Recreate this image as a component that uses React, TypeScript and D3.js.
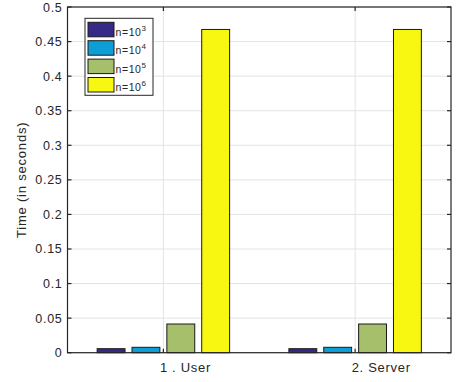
import React, { useRef, useEffect } from "react";
import * as d3 from "d3";

// data
const categories = ["1 . User", "2. Server"];
const seriesNames = ["3", "4", "5", "6"]; // exponents of n=10^k
const seriesColors = ["#352A87", "#0D9ED5", "#A5BF6A", "#F7F711"];
const userTimes = [0.0058, 0.0078, 0.0415, 0.4675];
const serverTimes = [0.0058, 0.0078, 0.0415, 0.4675];
const yTicks = [0, 0.05, 0.1, 0.15, 0.2, 0.25, 0.3, 0.35, 0.4, 0.45, 0.5];

const values = [userTimes, serverTimes];

const W = 456;
const H = 382;
const margin = { left: 67.5, right: 5, top: 7, bottom: 29.3 };
const font = "'Liberation Sans', Arial, sans-serif";

function BarChart() {
  const svgRef = useRef<SVGSVGElement>(null);

  useEffect(() => {
    const svg = d3.select(svgRef.current);
    svg.selectAll("*").remove();

    const x0 = margin.left;
    const x1 = W - margin.right;
    const y0 = H - margin.bottom;
    const y1 = margin.top;

    // scales
    const xScale = d3.scaleLinear().domain([0.5, 2.5]).range([x0, x1]);
    const yScale = d3.scaleLinear().domain([0, 0.5]).range([y0, y1]);
    const unit = xScale(2) - xScale(1);
    const groupW = (unit * 4) / 5.5;
    const inner = d3
      .scaleBand<string>()
      .domain(seriesNames)
      .range([-groupW / 2, groupW / 2])
      .paddingInner(0.2)
      .paddingOuter(0.1);

    // grid
    const grid = svg.append("g").attr("stroke", "#e3e3e3").attr("stroke-width", 1);
    yTicks.forEach((t) => {
      grid.append("line").attr("x1", x0).attr("x2", x1)
        .attr("y1", yScale(t)).attr("y2", yScale(t));
    });
    categories.forEach((_, i) => {
      grid.append("line").attr("x1", xScale(i + 1)).attr("x2", xScale(i + 1))
        .attr("y1", y0).attr("y2", y1);
    });

    // bars
    values.forEach((vals, gi) => {
      svg.append("g")
        .selectAll("rect")
        .data(vals)
        .join("rect")
        .attr("x", (_, i) => xScale(gi + 1) + (inner(seriesNames[i]) as number))
        .attr("width", inner.bandwidth())
        .attr("y", (d) => yScale(d))
        .attr("height", (d) => y0 - yScale(d))
        .attr("fill", (_, i) => seriesColors[i])
        .attr("stroke", "#1a1a1a")
        .attr("stroke-width", 1);
    });

    // box and ticks
    const ax = svg.append("g").attr("stroke", "#262626").attr("stroke-width", 1.2).attr("fill", "none");
    ax.append("rect").attr("x", x0).attr("y", y1).attr("width", x1 - x0).attr("height", y0 - y1);
    const tl = 4;
    yTicks.forEach((t) => {
      const y = yScale(t);
      ax.append("line").attr("x1", x0).attr("x2", x0 + tl).attr("y1", y).attr("y2", y);
      ax.append("line").attr("x1", x1).attr("x2", x1 - tl).attr("y1", y).attr("y2", y);
    });
    categories.forEach((_, i) => {
      const x = xScale(i + 1);
      ax.append("line").attr("x1", x).attr("x2", x).attr("y1", y0).attr("y2", y0 - tl);
      ax.append("line").attr("x1", x).attr("x2", x).attr("y1", y1).attr("y2", y1 + tl);
    });

    // y tick labels
    svg.append("g")
      .selectAll("text")
      .data(yTicks)
      .join("text")
      .attr("x", x0 - 5)
      .attr("y", (d) => yScale(d) + 4.5)
      .attr("text-anchor", "end")
      .style("font-family", font)
      .style("font-size", "12.5px")
      .style("letter-spacing", "0.7px")
      .attr("fill", "#262626")
      .text((d) => String(d));

    // x tick labels
    svg.append("g")
      .selectAll("text")
      .data(categories)
      .join("text")
      .attr("x", (_, i) => xScale(i + 1) - 3.5)
      .attr("y", y0 + 19)
      .attr("text-anchor", "start")
      .style("font-family", font)
      .style("font-size", "13px")
      .style("letter-spacing", "0.7px")
      .attr("fill", "#262626")
      .text((d) => d);

    // y label
    svg.append("text")
      .attr("transform", `translate(26,${(y0 + y1) / 2}) rotate(-90)`)
      .attr("text-anchor", "middle")
      .style("font-family", font)
      .style("font-size", "13px")
      .style("letter-spacing", "0.8px")
      .attr("fill", "#262626")
      .text("Time (in seconds)");

    // legend
    const lg = svg.append("g");
    lg.append("rect").attr("x", 85).attr("y", 18.3).attr("width", 68).attr("height", 77)
      .attr("fill", "#fff").attr("stroke", "#262626").attr("stroke-width", 1);
    seriesNames.forEach((s, i) => {
      const yy = 22.3 + i * 18.4;
      lg.append("rect").attr("x", 88).attr("y", yy).attr("width", 26).attr("height", 14.5)
        .attr("fill", seriesColors[i]).attr("stroke", "#1a1a1a").attr("stroke-width", 1);
      const t = lg.append("text")
        .attr("x", 115.5)
        .attr("y", yy + 13.5)
        .style("font-family", font)
        .style("font-size", "10.5px")
        .style("letter-spacing", "0.6px")
        .attr("fill", "#262626");
      t.append("tspan").text("n=10");
      t.append("tspan").attr("dy", -5).style("font-size", "8px").text(s);
    });
  }, []);

  return <svg ref={svgRef} width={W} height={H} style={{ display: "block" }} />;
}

export default function App() {
  return (
    <div style={{ position: "absolute", left: 0, top: 0, background: "#fff" }}>
      <BarChart />
    </div>
  );
}
